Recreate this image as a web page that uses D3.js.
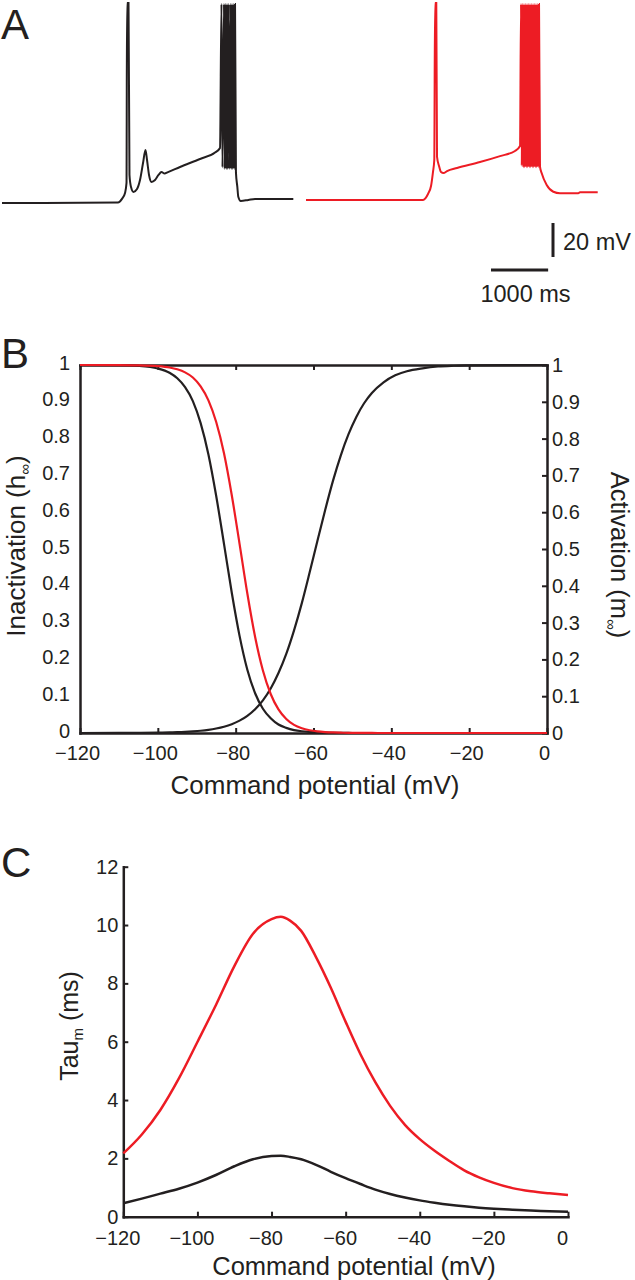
<!DOCTYPE html>
<meta charset="utf-8">
<script src="https://d3js.org/d3.v7.min.js"></script>
<style>
  body { margin: 0; background: #fff; }
  text { font-family: "Liberation Sans", Arial, sans-serif; fill: #231f20; }
</style>
<div id="chart"></div>
<script>
// ---------- data ----------
// panel A: membrane voltage traces, [time ms, voltage mV]
const blackTrace = [
  [0,-80],[2030,-79.7],[2100,-77.6],[2153,-74.1],[2179,-68.2],[2188,37.6],[2214,37.6],
  [2231,-63.5],[2258,-70.6],[2301,-73.5],[2363,-71.8],[2415,-66.5],[2468,-56.5],[2511,-48.8],
  [2538,-54.7],[2573,-63.5],[2616,-67.6],[2678,-66.5],[2739,-63.5],[2791,-61.8],[2844,-62.6],
  [2905,-61.8],[3115,-58.8],[3465,-54.1],[3728,-50.3],[3815,-47.6],
  [3841,37],[3858,-59],[3885,37],[3898,-60],[3911,37],[3925,-60],[3938,37],[3951,-60],
  [3964,37],[3982,-60],[3999,37],[4012,-60],[4025,37],[4038,-60],[4051,37],[4064,-60],[4078,37],
  [4094,-62],[4118,-70.4],[4135,-76.3],[4178,-78.8],[4310,-78.2],[4428,-77.6],[5098,-77.6]
];
const redTrace = [
  [0,-78.2],[2048,-78.2],[2135,-74.7],[2188,-70],[2222,-61.8],[2245,-54.7],[2258,37.6],[2280,37.6],
  [2293,-52.9],[2328,-58.2],[2363,-61.8],[2406,-62.4],[2468,-61.2],[2643,-59.4],[3045,-55.9],
  [3395,-52.4],[3658,-49.4],[3745,-46.5],
  [3763,37],[3776,-58],[3789,37],[3802,-59],[3815,37],[3828,-59],[3841,37],[3854,-59],
  [3868,37],[3881,-59],[3894,37],[3907,-59],[3920,37],[3933,-59],[3946,37],[3959,-59],
  [3973,37],[3986,-59],[3999,37],[4012,-59],[4025,37],[4038,-59],[4051,37],[4064,-59],[4078,37],
  [4095,-58.6],[4125,-62.5],[4212,-69.4],[4328,-73.4],[4445,-74.3],[4765,-74.3],[4795,-73.7],[5105,-73.7]
];

// panel B: steady-state curves vs command potential
const vB = [-120,-110,-105,-100,-97,-95,-93,-91,-89,-87,-85,-83,-81,-79,-77,-75,-73,-71,-69,-67,
            -65,-63,-61,-59,-57,-55,-53,-51,-49,-47,-45,-42,-39,-36,-32,-28,-24,-20,-10,0];
const hBlack = [1,0.9994,0.9975,0.9905,0.979,0.964,0.94,0.902,0.842,0.757,0.644,0.514,0.381,0.264,
                0.172,0.108,0.066,0.04,0.023,0.014,0.008,0.0047,0.0028,0.0016,0.0009,0.0005,0.0003,
                0.0001,0,0,0,0,0,0,0,0,0,0,0,0];
const hRed = [1,0.9998,0.9992,0.997,0.9933,0.9883,0.98,0.966,0.942,0.904,0.845,0.76,0.646,0.514,
              0.379,0.261,0.17,0.106,0.064,0.038,0.022,0.013,0.0076,0.0044,0.0026,0.0015,0.0008,
              0.0005,0.0003,0.0002,0.0001,0,0,0,0,0,0,0,0,0];
const mBlack = [0,0.0002,0.0004,0.0009,0.0016,0.0022,0.0031,0.0044,0.0061,0.0086,0.0122,0.0171,
                0.024,0.0336,0.0467,0.0647,0.0888,0.121,0.163,0.215,0.279,0.353,0.436,0.522,0.606,
                0.685,0.754,0.812,0.859,0.896,0.924,0.953,0.972,0.983,0.991,0.996,0.998,0.9989,
                0.9998,1];
const bTicksX = [-120,-100,-80,-60,-40,-20,0];
const bTicksY = [0,0.1,0.2,0.3,0.4,0.5,0.6,0.7,0.8,0.9,1];

// panel C: activation time constant
const vC = [-120,-115,-110,-105,-100,-95,-90,-85,-80,-77.5,-75,-72,-68,-64,-60,-56,-52,-48,-44,
            -40,-36,-32,-28,-24,-20,-15,-10,-5,0];
const tauRed = [2.17,2.82,3.66,4.74,5.99,7.26,8.6,9.7,10.2,10.28,10.15,9.8,8.9,7.85,6.68,5.57,
                4.61,3.8,3.15,2.66,2.26,1.91,1.59,1.35,1.16,0.98,0.87,0.8,0.74];
const tauBlack = [0.46,0.62,0.79,0.96,1.17,1.43,1.73,1.97,2.08,2.09,2.05,1.97,1.78,1.54,1.32,1.12,
                  0.93,0.78,0.66,0.56,0.48,0.41,0.355,0.31,0.275,0.24,0.21,0.19,0.17];
const cTicksX = [-120,-100,-80,-60,-40,-20,0];
const cTicksY = [0,2,4,6,8,10,12];

const BLACK = "#231f20", RED = "#ed1c24";
const FONT = '"Liberation Sans", Arial, sans-serif';

const svg = d3.select("#chart").append("svg")
  .attr("width", 635).attr("height", 1280);

function styleAxis(g, size) {
  g.attr("font-family", FONT).attr("font-size", size);
  g.select(".domain").attr("stroke", BLACK).attr("stroke-width", 2.5).attr("stroke-linecap", "square");
  g.selectAll(".tick line").attr("stroke", BLACK).attr("stroke-width", 2);
  g.selectAll(".tick text").attr("fill", BLACK);
}

// ---------- panel A ----------
const tA = d3.scaleLinear().domain([0, 5250]).range([0, 300]);
const vA = d3.scaleLinear().domain([-80, 40]).range([203, -1]);
const lineA = d3.line().x(d => tA(d[0])).y(d => vA(d[1])).curve(d3.curveMonotoneX);

svg.append("path").datum(blackTrace)
  .attr("transform", "translate(2,0)")
  .attr("d", lineA).attr("fill", "none").attr("stroke", BLACK).attr("stroke-width", 2);
svg.append("path").datum(redTrace)
  .attr("transform", "translate(306,0)")
  .attr("d", lineA).attr("fill", "none").attr("stroke", RED).attr("stroke-width", 2);

// scale bars
const sbX = 491, sbY = 270;
svg.append("line").attr("x1", sbX).attr("x2", sbX + tA(1000) - tA(0))
  .attr("y1", sbY).attr("y2", sbY).attr("stroke", BLACK).attr("stroke-width", 3);
svg.append("line").attr("x1", 553).attr("x2", 553)
  .attr("y1", 257).attr("y2", 257 - (vA(-80) - vA(-60)))
  .attr("stroke", BLACK).attr("stroke-width", 3);
svg.append("text").attr("x", 563).attr("y", 250).attr("font-size", 23.5).text("20 mV");
svg.append("text").attr("x", 525.5).attr("y", 301.5).attr("font-size", 23.5)
  .attr("text-anchor", "middle").text("1000 ms");

// ---------- panel B ----------
const xB = d3.scaleLinear().domain([-120, 0]).range([80, 547]);
const yB = d3.scaleLinear().domain([0, 1]).range([733, 365]);

svg.append("g").attr("transform", "translate(0,733)")
  .call(d3.axisBottom(xB).tickValues(bTicksX).tickSizeInner(-5).tickSizeOuter(0).tickPadding(13))
  .call(g => styleAxis(g, 20))
  .call(g => g.selectAll(".tick text").attr("dx", -3));
svg.append("g").attr("transform", "translate(0,365)")
  .call(d3.axisTop(xB).tickValues(bTicksX).tickSizeInner(-5).tickSizeOuter(0).tickFormat(""))
  .call(g => styleAxis(g, 20));
svg.append("g").attr("transform", "translate(80,0)")
  .call(d3.axisLeft(yB).tickValues(bTicksY).tickSizeInner(0).tickSizeOuter(0).tickPadding(10)
    .tickFormat(d3.format(".1~f")))
  .call(g => styleAxis(g, 20))
  .call(g => g.selectAll(".tick text").attr("dy", "0.2em"));
svg.append("g").attr("transform", "translate(547,0)")
  .call(d3.axisRight(yB).tickValues(bTicksY).tickSizeInner(-5).tickSizeOuter(0).tickPadding(5)
    .tickFormat(d3.format(".1~f")))
  .call(g => styleAxis(g, 20));

const lineB = ys => d3.line().x((d, i) => xB(vB[i])).y(d => yB(d)).curve(d3.curveMonotoneX)(ys);
[[mBlack, BLACK], [hBlack, BLACK], [hRed, RED]].forEach(([s, c]) => {
  svg.append("path").attr("d", lineB(s)).attr("fill", "none")
    .attr("stroke", c).attr("stroke-width", 2.2);
});

svg.append("text").attr("x", 315).attr("y", 794).attr("font-size", 26)
  .attr("text-anchor", "middle").text("Command potential (mV)");

const tl = svg.append("text").attr("transform", "translate(25,546) rotate(-90)")
  .attr("font-size", 26).attr("text-anchor", "middle");
tl.append("tspan").text("Inactivation (h");
tl.append("tspan").attr("font-size", 15).attr("dy", 5).text("∞");
tl.append("tspan").attr("dy", -5).text(")");

const tr = svg.append("text").attr("transform", "translate(611,555) rotate(90)")
  .attr("font-size", 25.5).attr("text-anchor", "middle");
tr.append("tspan").text("Activation (m");
tr.append("tspan").attr("font-size", 15).attr("dy", 5).text("∞");
tr.append("tspan").attr("dy", -5).text(")");

// ---------- panel C ----------
const xC = d3.scaleLinear().domain([-120, 0]).range([123.3, 568]);
const yC = d3.scaleLinear().domain([0, 12]).range([1216.7, 866.7]);

svg.append("g").attr("transform", "translate(0,1216.7)")
  .call(d3.axisBottom(xC).tickValues(cTicksX).tickSizeInner(-5).tickSizeOuter(0).tickPadding(14))
  .call(g => styleAxis(g, 20))
  .call(g => g.selectAll(".tick text").attr("dx", -6));
svg.append("g").attr("transform", "translate(123.3,0)")
  .call(d3.axisLeft(yC).tickValues(cTicksY).tickSizeInner(-5).tickSizeOuter(0).tickPadding(5))
  .call(g => styleAxis(g, 20));

const lineC = ys => d3.line().x((d, i) => xC(vC[i])).y(d => yC(d)).curve(d3.curveMonotoneX)(ys);
[[tauRed, RED], [tauBlack, BLACK]].forEach(([s, c]) => {
  svg.append("path").attr("d", lineC(s)).attr("fill", "none")
    .attr("stroke", c).attr("stroke-width", 2.5);
});

svg.append("text").attr("x", 354).attr("y", 1275).attr("font-size", 25.5)
  .attr("text-anchor", "middle").text("Command potential (mV)");

const tc = svg.append("text").attr("transform", "translate(78,1026) rotate(-90)")
  .attr("font-size", 25).attr("text-anchor", "middle");
tc.append("tspan").text("Tau");
tc.append("tspan").attr("font-size", 15).attr("dy", 5).text("m");
tc.append("tspan").attr("dy", -5).text(" (ms)");

// ---------- panel letters ----------
[["A", 39], ["B", 368], ["C", 877]].forEach(([l, y]) => {
  svg.append("text").attr("x", 1).attr("y", y).attr("font-size", 42).text(l);
});
</script>
